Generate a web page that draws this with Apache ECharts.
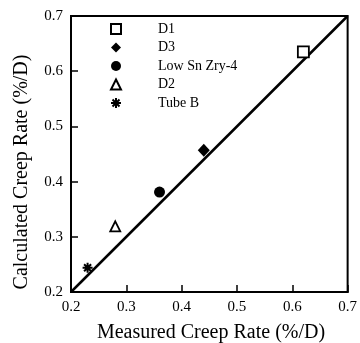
<!DOCTYPE html>
<html>
<head>
<meta charset="utf-8">
<script src="https://cdn.jsdelivr.net/npm/echarts@6/dist/echarts.min.js"></script>
<style>
  html, body { margin: 0; padding: 0; background: #fff; }
  #chart { width: 360px; height: 343px; }
</style>
</head>
<body>
<div id="chart"></div>
<script>
// Measured vs calculated creep rates (%/D) for each material
const seriesNames = ['D1', 'D3', 'Low Sn Zry-4', 'D2', 'Tube B'];
const measured   = [0.62, 0.44, 0.36, 0.28, 0.23];
const calculated = [0.635, 0.457, 0.381, 0.319, 0.244];
const tickValues = [0.2, 0.3, 0.4, 0.5, 0.6, 0.7];
const parityLine = [[0.2, 0.2], [0.7, 0.7]];

const FONT = '"Liberation Serif", "DejaVu Serif", serif';
const asterisk = 'path://M0,-10L0,10M-10,0L10,0M-7,-7L7,7M-7,7L7,-7';

const markerStyles = {
  'D1':           { symbol: 'rect',     size: 11, fill: '#fff', stroke: 1.8 },
  'D3':           { symbol: 'diamond',  size: [12, 13], fill: '#000', stroke: 0 },
  'Low Sn Zry-4': { symbol: 'circle',   size: 11, fill: '#000', stroke: 0 },
  'D2':           { symbol: 'triangle', size: 10, fill: '#fff', stroke: 1.8 },
  'Tube B':       { symbol: asterisk,   size: 10, fill: '#000', stroke: 2 }
};

const pointSeries = seriesNames.map((name, i) => {
  const m = markerStyles[name];
  return {
    name: name,
    type: 'scatter',
    symbol: m.symbol,
    symbolSize: m.size,
    itemStyle: { color: m.fill, borderColor: '#000', borderWidth: m.stroke, opacity: 1 },
    z: 5,
    data: [[measured[i], calculated[i]]]
  };
});

const chart = echarts.init(document.getElementById('chart'), null, { renderer: 'canvas' });

const axisCommon = {
  type: 'value',
  min: tickValues[0],
  max: tickValues[tickValues.length - 1],
  interval: 0.1,
  axisLine: { show: true, lineStyle: { color: '#000', width: 2 } },
  axisTick: { show: true, inside: true, length: 7, lineStyle: { color: '#000', width: 1.5 } },
  splitLine: { show: false },
  axisLabel: {
    fontFamily: FONT, fontSize: 15, color: '#000', margin: 8,
    formatter: v => v.toFixed(1)
  }
};

chart.setOption({
  animation: false,
  backgroundColor: '#fff',
  grid: {
    left: 71, top: 16, width: 278, height: 276,
    show: true, borderColor: '#000', borderWidth: 2, backgroundColor: 'transparent'
  },
  xAxis: axisCommon,
  yAxis: axisCommon,
  legend: {
    data: seriesNames,
    orient: 'vertical',
    left: 105,
    top: 17,
    itemWidth: 10,
    itemHeight: 10,
    itemGap: 4.5,
    textStyle: { fontFamily: FONT, fontSize: 14, color: '#000', padding: [0, 0, 0, 32] },
    selectedMode: false
  },
  graphic: [
    {
      type: 'text',
      x: 211, y: 333,
      style: {
        text: 'Measured Creep Rate (%/D)', font: '20px ' + FONT, fill: '#000',
        align: 'center', verticalAlign: 'middle'
      }
    },
    {
      type: 'text',
      x: 22, y: 172,
      rotation: Math.PI / 2,
      style: {
        text: 'Calculated Creep Rate (%/D)', font: '20px ' + FONT, fill: '#000',
        align: 'center', verticalAlign: 'middle'
      }
    }
  ],
  series: [
    {
      name: 'parity',
      type: 'line',
      data: parityLine,
      symbol: 'none',
      lineStyle: { color: '#000', width: 2.5 },
      z: 3,
      silent: true
    }
  ].concat(pointSeries)
});
</script>
</body>
</html>
